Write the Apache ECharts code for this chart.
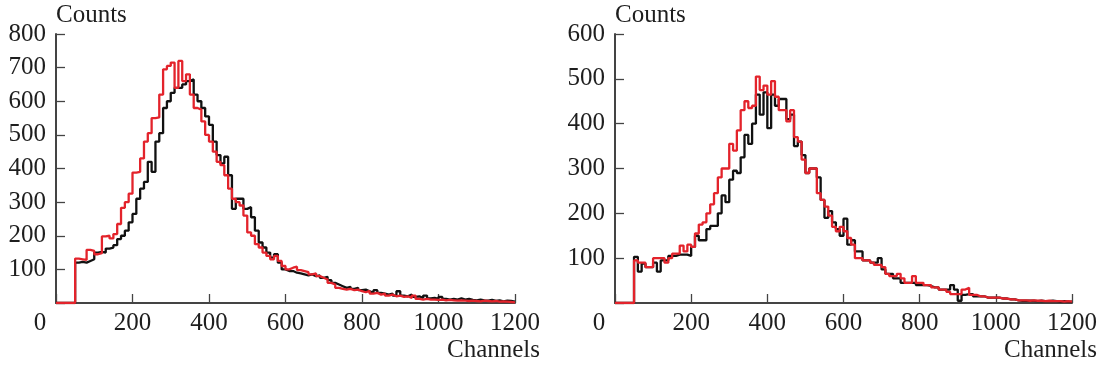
<!DOCTYPE html>
<html>
<head>
<meta charset="utf-8">
<script src="https://cdn.jsdelivr.net/npm/echarts@6/dist/echarts.min.js"></script>
<style>
html, body { margin: 0; padding: 0; background: #fff; }
#chart { width: 1102px; height: 370px; }
</style>
</head>
<body>
<div id="chart"></div>
<script>
// histogram bins: first edge, width, last edge (channels)
const binStart = 50;
const binWidth = 10;
const channelMax = 1200;

const xTicks = [0, 200, 400, 600, 800, 1000, 1200];
const leftYMax = 800;
const rightYMax = 600;

// left panel, counts per bin starting at channel 50
const leftBlack = [
    120, 122, 120, 125, 130, 150, 152, 150, 162, 165,
    172, 190, 200, 215, 240, 265, 310, 340, 360, 420,
    390, 480, 505, 580, 600, 625, 640, 640, 650, 660,
    665, 620, 600, 580, 555, 530, 480, 440, 415, 435,
    380, 280, 310, 310, 280, 285, 255, 215, 180, 165,
    150, 135, 145, 120, 100, 95,
    95, 90, 88, 85, 82, 85, 80, 82, 75, 78,
    68, 60, 55, 50, 45, 48, 42, 45, 38, 40,
    35, 30, 38, 30, 28, 25, 28, 22, 35, 22,
    20, 25, 18, 20, 15, 22, 14, 15, 12, 18,
    12, 10, 12, 10, 14, 10, 12, 9, 8, 10,
    8, 7, 9, 6, 8, 5, 7, 6, 4
];
const leftRed = [
    132, 130, 128, 158, 155, 145, 148, 198, 200, 192,
    205, 235, 283, 300, 325, 388, 390, 430, 480, 505,
    550, 552, 620, 695, 705, 715, 640, 720, 660, 680,
    620, 580, 575, 540, 500, 480, 450, 420, 410, 380,
    340, 310, 300, 290, 260, 210, 200, 175, 165, 150,
    140, 130, 140, 125, 110, 100,
    105, 108, 98, 95, 92, 85, 88, 80, 75, 70,
    60, 55, 45, 42, 40, 42, 38, 40, 35, 32,
    36, 28, 30, 25, 28, 22, 25, 20, 22, 18,
    20, 15, 22, 12, 10, 12, 10, 10, 9, 10,
    8, 9, 8, 7, 8, 7, 6, 7, 6, 5,
    7, 6, 5, 6, 4, 5, 4, 3, 2
];

// right panel
const rightBlack = [
    103, 70, 88, 80, 80, 90, 70, 95, 95, 105,
    105, 108, 108, 108, 105, 125, 150, 140, 140, 165,
    172, 172, 200, 240, 225, 275, 295, 290, 325, 375,
    355, 400, 465, 420, 470, 390, 465, 440, 455, 455,
    410, 420, 350, 360, 330, 290, 300, 300, 280, 230,
    190, 205, 180, 165, 150, 188, 130, 140, 115, 115,
    95, 95, 90, 90, 100, 75, 65, 65, 55, 55,
    45, 45, 45, 45, 40, 40, 40, 38, 35, 35,
    30, 30, 30, 40, 30, 5, 18, 20, 20, 15,
    15, 15, 12, 12, 12, 12, 10, 10, 8, 8,
    6, 5, 5, 5, 5, 4, 5, 4, 4, 5,
    4, 3, 4, 3, 3
];
const rightRed = [
    95, 90, 90, 80, 80, 100, 100, 100, 90, 100,
    110, 110, 128, 115, 130, 125, 155, 175, 180, 200,
    220, 245, 280, 300, 300, 355, 340, 385, 430, 450,
    435, 440, 505, 475, 485, 465, 495, 460, 430, 430,
    405, 430, 370, 360, 320, 290, 300, 300, 245, 230,
    215, 195, 170, 160, 170, 160, 145, 130, 100, 100,
    95, 95, 90, 85, 85, 80, 65, 60, 60, 65,
    55, 45, 45, 60, 45, 45, 40, 40, 35, 35,
    30, 30, 25, 20, 20, 20, 30, 34, 18, 18,
    15, 15, 12, 12, 12, 12, 10, 10, 8, 8,
    6, 6, 6, 5, 6, 5, 5, 4, 5, 4,
    4, 4, 3, 4, 3
];

const font = 'Liberation Serif, Times New Roman, serif';
const fontSize = 25;
const textColor = '#1e1e1e';
const axisColor = '#444';

function toSteps(values) {
    const pts = [[0, 0]];
    values.forEach((v, i) => pts.push([binStart + i * binWidth, v]));
    pts.push([channelMax, values[values.length - 1]]);
    return pts;
}

function makeX(gridIndex) {
    return {
        gridIndex: gridIndex,
        type: 'value',
        min: xTicks[0],
        max: xTicks[xTicks.length - 1],
        interval: 200,
        name: 'Channels',
        nameLocation: 'end',
        nameGap: 25,
        nameTextStyle: {
            fontFamily: font, fontSize: fontSize, color: textColor,
            align: 'right', verticalAlign: 'top', padding: [35, 0, 0, 0]
        },
        axisLine: { show: true, onZero: false, lineStyle: { color: axisColor, width: 2 } },
        axisTick: { show: true, inside: true, length: 9, lineStyle: { color: axisColor, width: 1.3 } },
        splitLine: { show: false },
        axisLabel: {
            margin: 8,
            fontFamily: font, fontSize: fontSize, color: textColor,
            formatter: v => v === 0 ? '{z|0}' : String(v),
            rich: { z: { fontFamily: font, fontSize: fontSize, color: textColor, padding: [0, 32, 0, 0] } }
        }
    };
}

function makeY(gridIndex, max) {
    return {
        gridIndex: gridIndex,
        type: 'value',
        min: 0,
        max: max,
        interval: 100,
        name: 'Counts',
        nameLocation: 'end',
        nameGap: 6,
        nameTextStyle: {
            fontFamily: font, fontSize: fontSize, color: textColor,
            align: 'left', verticalAlign: 'bottom'
        },
        axisLine: { show: true, lineStyle: { color: axisColor, width: 2 } },
        axisTick: { show: true, inside: true, length: 9, lineStyle: { color: axisColor, width: 1.3 } },
        splitLine: { show: false },
        axisLabel: {
            margin: 10,
            fontFamily: font, fontSize: fontSize, color: textColor,
            formatter: v => v === 0 ? '' : String(v)
        }
    };
}

function makeSeries(values, color, idx) {
    return {
        type: 'line',
        step: 'end',
        xAxisIndex: idx,
        yAxisIndex: idx,
        symbol: 'none',
        lineStyle: { color: color, width: 2.3 },
        data: toSteps(values)
    };
}

const chart = echarts.init(document.getElementById('chart'));
chart.setOption({
    animation: false,
    grid: [
        { left: 56, top: 34, width: 459, height: 269 },
        { left: 615, top: 34, width: 457, height: 269 }
    ],
    xAxis: [makeX(0), makeX(1)],
    yAxis: [makeY(0, leftYMax), makeY(1, rightYMax)],
    series: [
        makeSeries(leftBlack, '#111111', 0),
        makeSeries(leftRed, '#e3232b', 0),
        makeSeries(rightBlack, '#111111', 1),
        makeSeries(rightRed, '#e3232b', 1)
    ]
});
</script>
</body>
</html>
